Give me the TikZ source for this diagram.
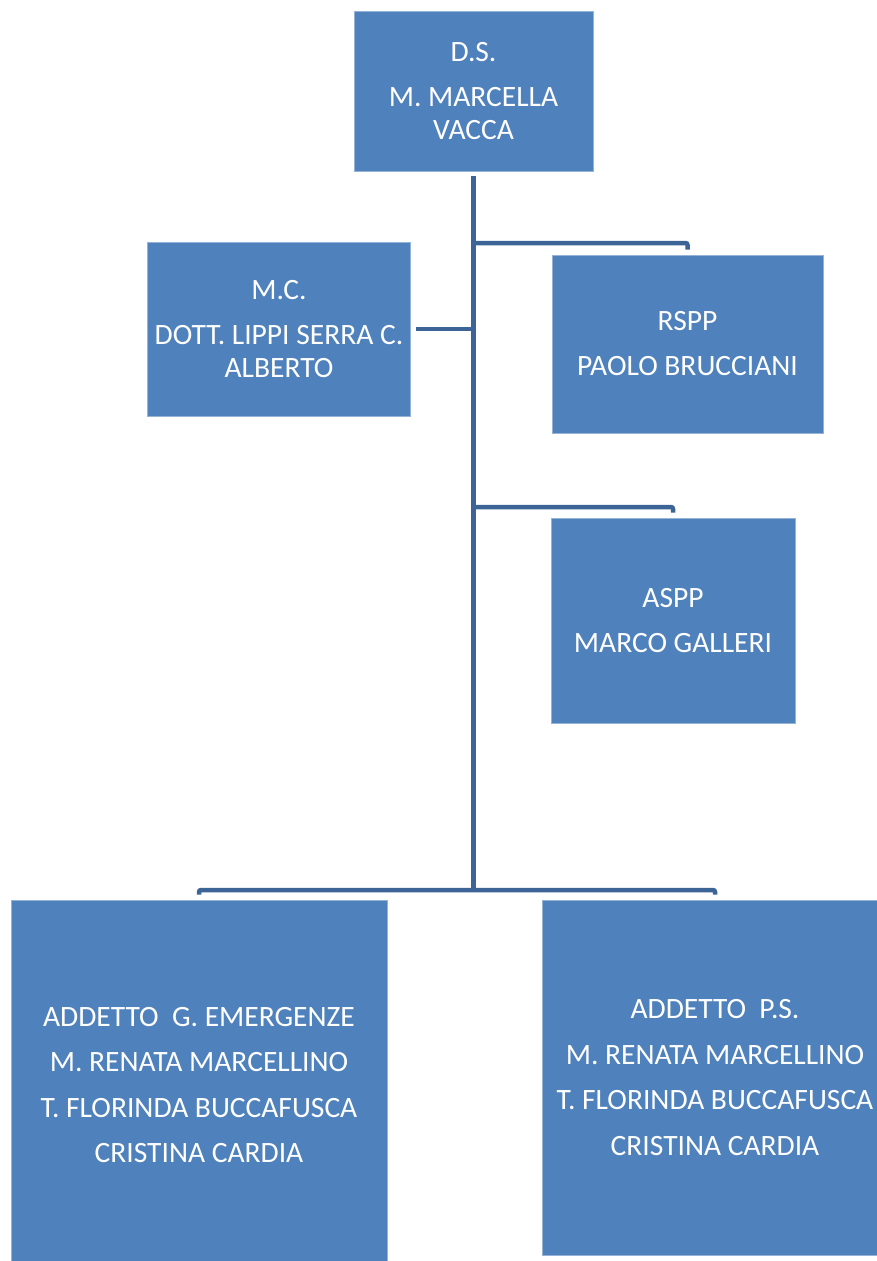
\documentclass[tikz,border=0pt]{standalone}
\usepackage{fontspec}
\setmainfont{Carlito}
\definecolor{boxblue}{HTML}{4F81BD}
\definecolor{linkblue}{HTML}{3C6496}
\tikzset{
  orgbox/.style={fill=boxblue, draw=boxblue!60!white, line width=0.6pt, text=white, inner sep=0pt, align=center,
    font=\fontsize{29.5}{32.5}\selectfont},
  link/.style={draw=linkblue, line width=4.5pt, rounded corners=2pt}
}
\begin{document}
\begin{tikzpicture}[x=1pt,y=-1pt]
\useasboundingbox (0,0) rectangle (877,1261);
\node[orgbox, minimum width=239pt, minimum height=160pt] (ds) at (473.5,91) {D.S.\\[12.5pt]M. MARCELLA\\VACCA};
\node[orgbox, minimum width=263pt, minimum height=174pt] (mc) at (279,329) {M.C.\\[12.5pt]DOTT. LIPPI SERRA C.\\ALBERTO};
\node[orgbox, minimum width=271pt, minimum height=178pt] (rspp) at (687.5,344) {RSPP\\[12.5pt]PAOLO BRUCCIANI};
\node[orgbox, minimum width=244pt, minimum height=205pt] (aspp) at (673,620.5) {ASPP\\[12.5pt]MARCO GALLERI};
\node[orgbox, minimum width=376pt, minimum height=370pt] (ge) at (199,1085) {ADDETTO~ G. EMERGENZE\\[13pt]M. RENATA MARCELLINO\\[13pt]T. FLORINDA BUCCAFUSCA\\[13pt]CRISTINA CARDIA};
\node[orgbox, minimum width=346pt, minimum height=355pt] (ps) at (715,1077.5) {ADDETTO~ P.S.\\[13pt]M. RENATA MARCELLINO\\[13pt]T. FLORINDA BUCCAFUSCA\\[13pt]CRISTINA CARDIA};
% trunk
\coordinate (top) at ([yshift=-5pt]ds.south);
\coordinate (jr) at (top |- 0,243);
\coordinate (jm) at (top |- mc.east);
\coordinate (ja) at (top |- 0,507);
\coordinate (jb) at (top |- 0,890);
\draw[link] (top) -- ([yshift=-2pt]jb);
\draw[link] (jr) -| ([yshift=5pt]rspp.north);
\draw[link] ([xshift=5pt]mc.east) -- (jm);
\draw[link] (ja) -| ([yshift=5pt]aspp.north);
\draw[link] ([yshift=5pt]ge.north) |- (jb) -| ([yshift=5pt]ps.north);
\end{tikzpicture}
\end{document}
